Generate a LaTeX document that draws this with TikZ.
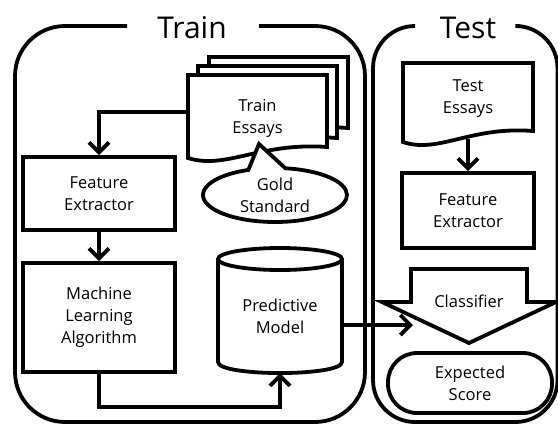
\documentclass[tikz,border=0pt]{standalone}
\usepackage{fontspec}
\setmainfont{Open Sans}
\usepackage{tikz}
\usetikzlibrary{shapes, shapes.callouts, arrows.meta, positioning, calc}

\tikzset{
  frameline/.style={line width=3.8pt},
  box/.style={draw, line width=3.8pt, align=center, inner sep=2pt,
    font=\fontsize{16.5}{22}\selectfont},
  plain/.style={align=center, inner sep=2pt, font=\fontsize{16.5}{22}\selectfont},
  conn/.style={line width=3.8pt, -{Straight Barb[length=10pt, width=20pt]}},
  title/.style={font=\fontsize{30}{30}\selectfont, inner sep=0pt}
}

% document outline: x, y, width, height of right side
\newcommand\essaydoc[4]{%
  \draw[frameline, fill=white] (#1,#2) -- ++(#3,0) -- ++(0,#4)
    .. controls +(-0.48*#3,-5) and +(0.27*#3,12) .. (#1,#2+#4+11) -- cycle;}

\begin{document}
\begin{tikzpicture}[x=1pt, y=-1pt]
  \useasboundingbox (0,0) rectangle (558,424);
  \clip (0,0) rectangle (558,424);
  \fill[white] (0,0) rectangle (558,424);

  % Train frame
  \draw[frameline, rounded corners=50pt] (127,26) -- (15,26) -- (15,422) -- (365,422) -- (365,26) -- (259,26);
  \node[title] (traintitle) at (192,28) {Train};

  % Test frame
  \draw[frameline, rounded corners=42pt] (413,26) -- (373,26) -- (373,422) -- (557.5,422) -- (557.5,26) -- (520,26);
  \node[title] (testtitle) at (468,28) {Test};

  % Train essays (stacked)
  \essaydoc{209}{57}{139}{71}
  \essaydoc{198}{66}{139}{72}
  \essaydoc{188}{75}{139}{72}
  \node[plain, minimum width=139pt, minimum height=86pt] (trainessays) at (257.5,118) {Train\\Essays};

  % Gold standard
  \node[plain, draw, fill=white, line width=3.8pt, ellipse callout, callout absolute pointer={(259,144)},
    callout pointer arc=30, minimum width=144pt, minimum height=54pt, inner sep=0pt] (gold) at (275,195) {Gold\\Standard};

  % Train side
  \node[box, minimum width=152pt, minimum height=73pt] (trainfe) at (99,193.5) {Feature\\Extractor};
  \node[box, minimum width=152pt, minimum height=109pt] (mla) at (99,317.5) {Machine\\Learning\\Algorithm};

  % Predictive model (cylinder)
  \draw[frameline] (218,259) -- (218,362) .. controls (218,376.7) and (342,376.7) .. (342,362) -- (342,259);
  \draw[frameline] (280,259) ellipse [x radius=62, y radius=11];
  \node[plain, minimum width=124pt, minimum height=114pt] (model) at (280,316) {Predictive\\Model};

  \draw[conn] ([yshift=6pt]trainessays.west) -| (trainfe.north);
  \draw[conn] (trainfe) -- (mla);
  \draw[conn] (mla.south) -- ++(0,33) -| (model.south);

  % Test side
  \essaydoc{403}{63}{130}{68}
  \node[plain, minimum width=130pt, minimum height=72pt] (testessays) at (468,99) {Test\\Essays};
  \node[box, minimum width=132pt, minimum height=75pt] (testfe) at (468,210.5) {Feature\\Extractor};
  \draw[conn] ([yshift=-4pt]testessays.south) -- (testfe.north);

  % Classifier arrow shape
  \draw[frameline] (411,269) -- (527,269) -- (527,302) -- (556,302) -- (469,343) -- (382,302) -- (411,302) -- cycle;
  \node[plain] (classifier) at (469,301) {Classifier};
  \coordinate (clsin) at (413,325);
  \draw[conn] ([yshift=-9pt]model.east) -- (clsin);

  \node[box, rounded corners=29pt, minimum width=164pt, minimum height=60pt] (score) at (470,383) {Expected\\Score};
\end{tikzpicture}
\end{document}
